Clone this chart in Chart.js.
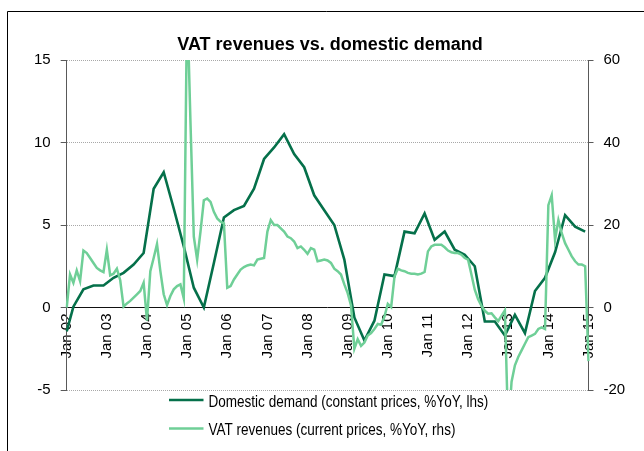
<!DOCTYPE html>
<html><head><meta charset="utf-8">
<script src="https://cdn.jsdelivr.net/npm/chart.js@4.4.1/dist/chart.umd.min.js"></script>
<style>html,body{margin:0;padding:0;background:#fff;}canvas{display:block;}</style>
</head><body>
<canvas id="c" width="644" height="451"></canvas>
<script>
// ---------- data ----------
const monthNames = ['Jan','Feb','Mar','Apr','May','Jun','Jul','Aug','Sep','Oct','Nov','Dec'];
const months = [];
for (let yr = 2002; yr <= 2015; yr++) {
  for (let mi = 0; mi < 12; mi++) {
    if (yr === 2015 && mi > 0) break;
    months.push(monthNames[mi] + ' ' + String(yr).slice(2));
  }
}
const tickLabels = ['Jan 02','Jan 03','Jan 04','Jan 05','Jan 06','Jan 07','Jan 08','Jan 09','Jan 10','Jan 11','Jan 12','Jan 13','Jan 14','Jan 15'];

// Domestic demand (constant prices, %YoY, lhs) - quarterly
const demandDates = ['Jan 02','Mar 02','Jun 02','Sep 02','Dec 02','Mar 03','Jun 03','Sep 03','Dec 03',
  'Mar 04','Jun 04','Sep 04','Dec 04','Mar 05','Jun 05','Sep 05','Dec 05','Mar 06','Jun 06','Sep 06','Dec 06',
  'Mar 07','Jun 07','Sep 07','Dec 07','Mar 08','Jun 08','Sep 08','Dec 08','Mar 09','Jun 09','Sep 09','Dec 09',
  'Mar 10','Jun 10','Sep 10','Dec 10','Mar 11','Jun 11','Sep 11','Dec 11','Mar 12','Jun 12','Sep 12','Dec 12',
  'Mar 13','Jun 13','Sep 13','Dec 13','Mar 14','Jun 14','Sep 14','Dec 14'];
const demandValues = [-1.45, 0.05, 1.1, 1.33, 1.33, 1.8, 2.1, 2.6, 3.3,
  7.2, 8.2, 6.0, 3.7, 1.2, 0.0, 2.7, 5.45, 5.9, 6.15, 7.2, 9.0,
  9.7, 10.5, 9.3, 8.5, 6.8, 5.9, 5.0, 2.9, -0.6, -2.0, -0.8, 2.0,
  1.9, 4.6, 4.5, 5.7, 4.1, 4.6, 3.5, 3.2, 2.5, -0.85, -0.85, -1.7,
  -0.45, -1.55, 1.0, 1.8, 3.35, 5.6, 4.9, 4.6];

// VAT revenues (current prices, %YoY, rhs) - monthly, Jan 02 .. Jan 15
const vatRevenues = [
  0, 8.0, 6.0, 9.0, 6.4, 13.8, 13.2, 12.0, 10.8, 9.6, 9.0, 8.6,
  14.0, 7.8, 8.2, 9.4, 6.6, 0.2, 1.0, 1.6, 2.4, 3.2, 4.0, 6.0,
  -3.2, 8.8, 12.0, 15.4, 8.8, 3.2, 0.6, 2.8, 4.4, 5.2, 5.6, 2.2,
  75, 45, 17.2, 11.6, 18.4, 26.0, 26.4, 25.6, 23.2, 21.6, 20.8, 20.4,
  4.8, 5.2, 6.8, 8.0, 9.2, 9.8, 10.2, 10.4, 10.2, 11.6, 11.8, 12.0,
  18.4, 21.2, 20.0, 20.0, 19.2, 18.4, 17.2, 16.8, 16.0, 14.4, 14.8, 14.0,
  13.0, 14.4, 14.0, 11.2, 11.4, 11.6, 11.4, 10.8, 9.4, 8.8, 8.0, 5.6,
  3.5, 0.5, -10.0, -7.7, -9.3, -8.5, -6.8, -6.2, -5.2, -4.0, -4.2, -2.2,
  0.9, 0.1, 7.5, 9.4, 9.0, 8.8, 8.4, 8.2, 8.2, 8.0, 8.2, 8.6,
  13.6, 14.8, 15.2, 15.2, 15.2, 14.6, 13.8, 13.4, 13.2, 13.2, 12.8, 12.0,
  11.6, 8.0, 4.3, 2.0, 0.4, -0.8, -1.5, -1.4, -2.4, -3.3, -2.0, -0.7,
  -30, -18, -14, -12, -10.4, -8.8, -7.2, -6.8, -6.4, -5.2, -4.8, -5.2,
  24.8, 27.2, 16.4, 21.2, 18.0, 15.6, 14.0, 12.4, 11.2, 10.4, 10.4, 10.0,
  -13
];
const seriesNames = ['Domestic demand (constant prices, %YoY, lhs)', 'VAT revenues (current prices, %YoY, rhs)'];
const chartTitle = 'VAT revenues vs. domestic demand';

// ---------- fonts ----------
function fontAvailable(name) {
  const c = document.createElement('canvas').getContext('2d');
  const s = 'mmmmmmmmmmlli1234567890WwAaQq';
  c.font = '40px monospace'; const a = c.measureText(s).width;
  c.font = '40px serif'; const b = c.measureText(s).width;
  c.font = '40px "' + name + '", monospace'; const a2 = c.measureText(s).width;
  c.font = '40px "' + name + '", serif'; const b2 = c.measureText(s).width;
  return a !== a2 || b !== b2;
}
let NARROW = null;
for (const f of ['Liberation Sans Narrow', 'Arial Narrow']) { if (fontAvailable(f)) { NARROW = f; break; } }
const BODY_FAMILY = NARROW ? '"' + NARROW + '", "Liberation Sans", Arial, sans-serif' : '"Liberation Sans", Arial, sans-serif';
const TICK_SIZE = NARROW ? 17 : 15;
// legend: real narrow font if present, otherwise a horizontally condensed regular face
const LEGEND_SIZE = 16.5;
const LEGEND_SX = NARROW ? 1 : 0.82;

const DARK = '#05704A';
const LIGHT = '#6FCF97';
const AXIS = '#595959';

// ---------- decorations plugin ----------
const deco = {
  id: 'deco',
  beforeDraw(chart) {
    const ctx = chart.ctx;
    ctx.save();
    ctx.fillStyle = '#fff';
    ctx.fillRect(0, 0, chart.width, chart.height);
    ctx.strokeStyle = '#000';
    ctx.lineWidth = 1;
    ctx.beginPath();
    ctx.moveTo(7.5, chart.height + 2);
    ctx.lineTo(7.5, 11.5);
    ctx.lineTo(chart.width + 2, 11.5);
    ctx.stroke();
    ctx.restore();
  },
  afterDraw(chart) {
    const ctx = chart.ctx;
    ctx.save();
    ctx.fillStyle = '#000';
    ctx.font = 'bold 18px "Liberation Sans", Arial, sans-serif';
    ctx.textAlign = 'center';
    ctx.textBaseline = 'alphabetic';
    ctx.fillText(chartTitle, 330, 50);
    // legend
    const rows = [{ds: chart.data.datasets[0], y: 400, base: 406.5}, {ds: chart.data.datasets[1], y: 428.5, base: 435}];
    rows.forEach(r => {
      ctx.strokeStyle = r.ds.borderColor;
      ctx.lineWidth = 2.5;
      ctx.beginPath();
      ctx.moveTo(169, r.y);
      ctx.lineTo(203.5, r.y);
      ctx.stroke();
      ctx.save();
      ctx.translate(208.5, r.base);
      ctx.scale(LEGEND_SX, 1);
      ctx.font = LEGEND_SIZE + 'px ' + BODY_FAMILY;
      ctx.textAlign = 'left';
      ctx.textBaseline = 'alphabetic';
      ctx.fillStyle = '#000';
      ctx.fillText(r.ds.label, 0, 0);
      ctx.restore();
    });
    ctx.restore();
  }
};

new Chart(document.getElementById('c'), {
  type: 'line',
  data: {
    labels: months,
    datasets: [
      {
        label: seriesNames[0],
        data: demandDates.map((d, i) => ({x: d, y: demandValues[i]})),
        yAxisID: 'y', borderColor: DARK, backgroundColor: DARK,
        borderWidth: 2.6, pointRadius: 0, tension: 0, order: 1
      },
      {
        label: seriesNames[1],
        data: vatRevenues,
        yAxisID: 'y1', borderColor: LIGHT, backgroundColor: LIGHT,
        borderWidth: 2.5, pointRadius: 0, tension: 0, order: 0
      }
    ]
  },
  options: {
    responsive: false, animation: false, devicePixelRatio: 1,
    layout: {padding: {top: 60, bottom: 61, left: 0, right: 0}},
    plugins: {legend: {display: false}, title: {display: false}, tooltip: {enabled: false}},
    scales: {
      x: {
        type: 'category', position: {y: 0}, offset: false,
        grid: {drawOnChartArea: false, drawTicks: true, tickLength: 4,
               tickColor: (c) => (c.tick && tickLabels.includes(months[c.index])) ? AXIS : 'rgba(0,0,0,0)'},
        border: {display: true, color: '#111', width: 1},
        ticks: {autoSkip: false, maxRotation: 90, minRotation: 90, padding: 2, color: '#000',
                font: {family: BODY_FAMILY, size: TICK_SIZE},
                callback: function (v) { const l = this.getLabelForValue(v); return tickLabels.includes(l) ? l : null; }}
      },
      y: {
        position: 'left', min: -5, max: 15,
        ticks: {stepSize: 5, padding: 10, color: '#000', font: {family: BODY_FAMILY, size: TICK_SIZE}},
        grid: {color: (c) => (c.tick && c.tick.value === 0) ? 'rgba(0,0,0,0)' : '#a8a8a8', lineWidth: 1,
               tickColor: AXIS, tickLength: 6},
        border: {display: true, color: AXIS, width: 1, dash: [1, 1]},
        afterFit(s) { s.width = 66.7; }
      },
      y1: {
        position: 'right', min: -20, max: 60,
        ticks: {stepSize: 20, padding: 10, color: '#000', font: {family: BODY_FAMILY, size: TICK_SIZE}},
        grid: {drawOnChartArea: false, tickColor: AXIS, tickLength: 5},
        border: {display: true, color: AXIS, width: 1},
        afterFit(s) { s.width = 55.5; }
      }
    }
  },
  plugins: [deco]
});
</script>
</body></html>
